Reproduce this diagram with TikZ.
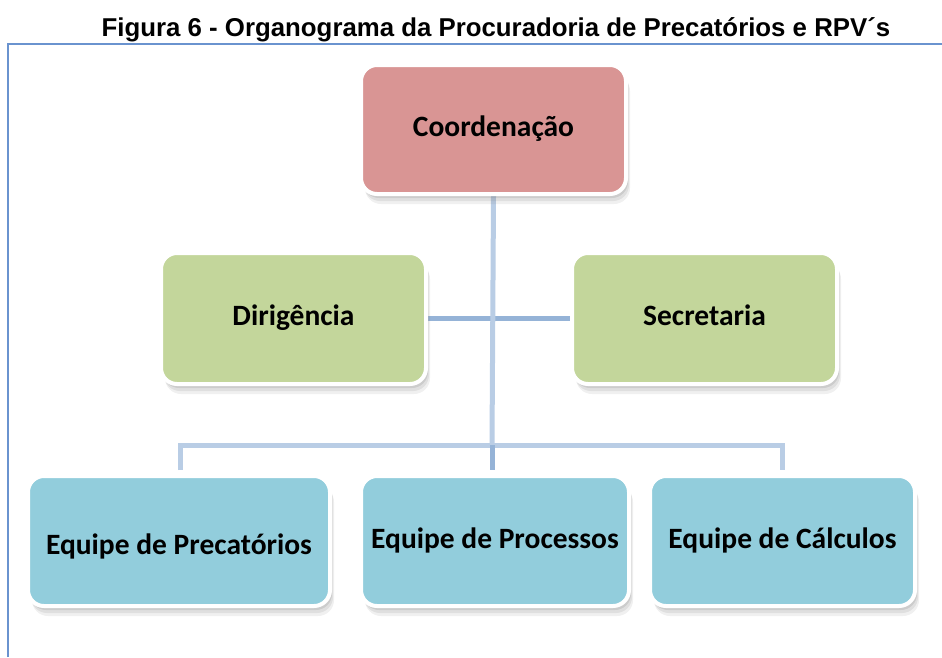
\documentclass[tikz,border=0pt]{standalone}
\usepackage{fontspec}
\setmainfont{Carlito}
\newfontfamily\titlefont{Liberation Sans}
\usetikzlibrary{shadows, positioning, backgrounds}
\definecolor{coordred}{HTML}{D99594}
\definecolor{dirgreen}{HTML}{C3D69B}
\definecolor{teamblue}{HTML}{92CDDC}
\definecolor{linklight}{HTML}{B9CDE5}
\definecolor{linkdark}{HTML}{95B3D7}
\definecolor{frameblue}{HTML}{6A93CF}
\tikzset{
  box/.style = {rectangle, rounded corners=16pt, draw=white, line width=4pt, inner sep=0pt,
    font=\bfseries\fontsize{29.5}{33}\selectfont, text height=20pt, text depth=6pt,
    drop shadow={shadow xshift=4pt, shadow yshift=-10pt, opacity=0.12},
    drop shadow={shadow xshift=3pt, shadow yshift=-7pt, opacity=0.15},
    drop shadow={shadow xshift=2pt, shadow yshift=-4pt, opacity=0.2}},
  head/.style = {box, fill=coordred, minimum width=265pt, minimum height=129pt},
  staff/.style = {box, fill=dirgreen, minimum width=265pt, minimum height=131pt},
  team/.style = {box, fill=teamblue, minimum width=265pt, minimum height=130pt},
  link/.style = {linklight, line width=5pt},
  staffline/.style = {linkdark, line width=5pt}
}

\begin{document}
\begin{tikzpicture}[x=1pt, y=-1pt]
    \useasboundingbox (0,0) rectangle (942,657);

    % title and frame
    \node[font=\titlefont\bfseries\fontsize{25.8}{30}\selectfont] (title) at (496,30) {Figura 6 - Organograma da Procuradoria de Precatórios e RPV´s};
    \draw[frameblue, line width=2pt] (8,657) -- (8,44) -- (942,44);

    % top
    \node[head] (coord) at (493.5,129.5) {Coordenação};

    % staff row
    \node[staff] (dir) at (293.5,318.5) {Dirigência};
    \node[staff] (sec) at (704.5,318.5) {Secretaria};

    % teams row
    \node[team, minimum width=302pt, text height=27pt, text depth=0pt] (prec) at (179,541) {Equipe de Precatórios};
    \node[team, minimum width=268pt] (proc) at (495,541) {Equipe de Processos};
    \node[team] (calc) at (782.5,541) {Equipe de Cálculos};

    % bus points
    \coordinate (bus) at (492,445);
    \coordinate (busL) at (180,445);
    \coordinate (busR) at (782,445);
    \coordinate (dropL) at (180,470);
    \coordinate (dropM) at (492,470);
    \coordinate (dropR) at (782,470);

    % connectors
    \begin{scope}[on background layer]
      \draw[staffline] (dir.east) -- (sec.west);
      \draw[link] (coord.south) -- (bus);
      \draw[link] (dropL) -- (busL) -- (busR) -- (dropR);
      \draw[staffline] (bus) -- (dropM);
    \end{scope}

  \end{tikzpicture}
\end{document}
